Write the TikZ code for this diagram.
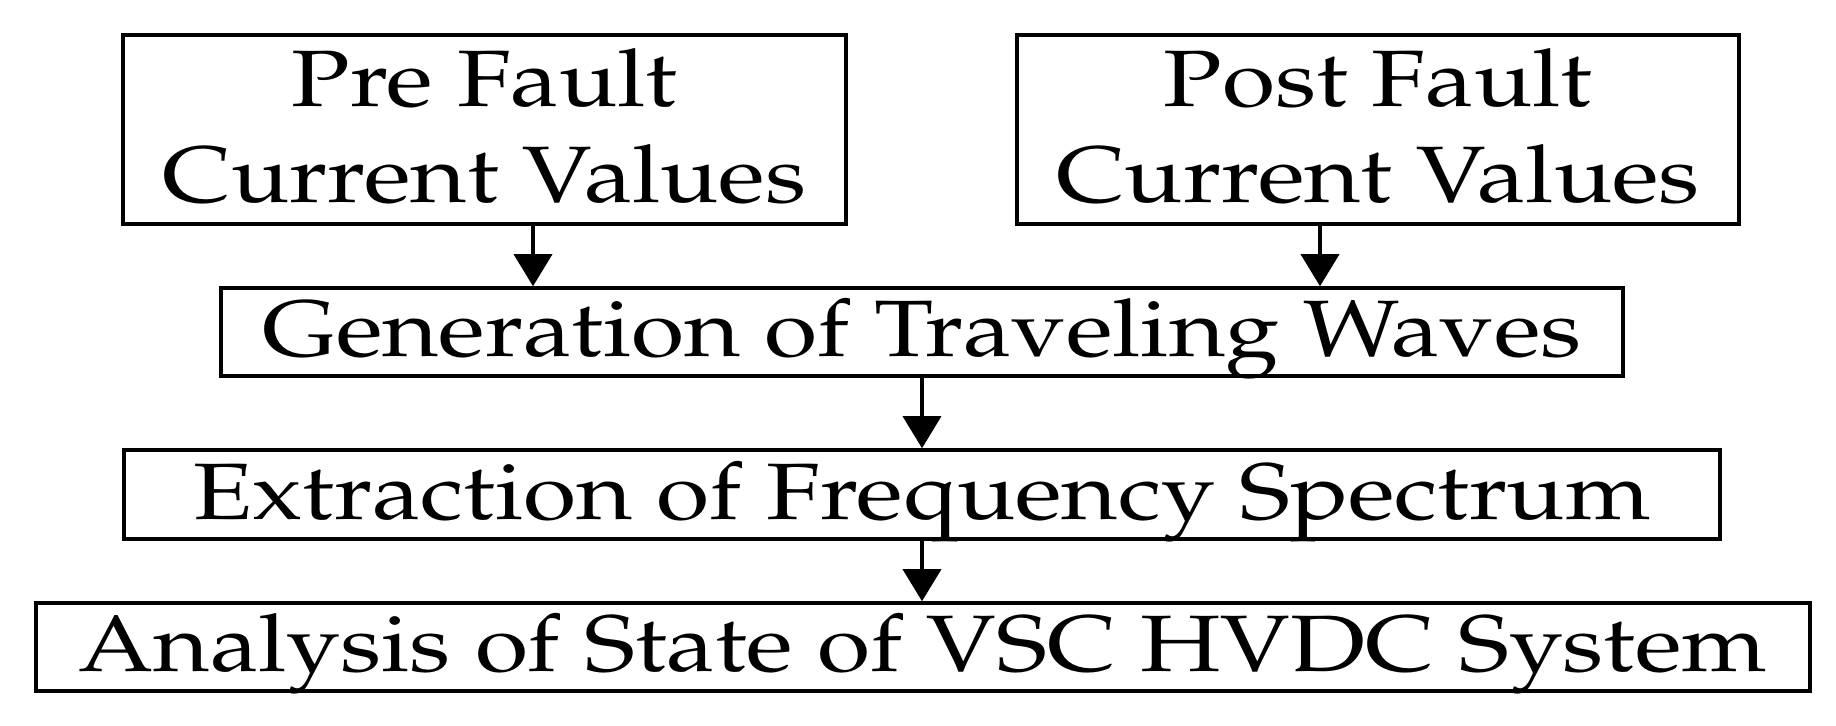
\documentclass[tikz,border=0pt]{standalone}
\usepackage[T1]{fontenc}
\renewcommand{\rmdefault}{ppl}
\usepackage{graphicx}
\usetikzlibrary{arrows.meta}
\newcommand{\sx}[1]{\scalebox{1.21}[1]{#1}}
\newcommand{\twol}[2]{\raisebox{11.25pt}[0pt][0pt]{\sx{\begin{tabular}[t]{@{}c@{}}#1\\#2\end{tabular}}}}
\newcommand{\onel}[1]{\raisebox{-12.35pt}[0pt][0pt]{\sx{#1}}}
\begin{document}
\begin{tikzpicture}[x=0.5pt,y=-0.5pt,
  box/.style={draw, line width=1.75pt, inner sep=0pt, font=\fontsize{40}{48}\selectfont, align=center},
  arr/.style={line width=1.75pt, -{Triangle[length=16pt,width=19pt]}}]
\useasboundingbox (0,0) rectangle (1836,726);
\node[box, minimum width=723*0.5pt, minimum height=189*0.5pt] (b1) at (484.5,129.5) {\twol{Pre Fault}{Current Values}};
\node[box, minimum width=722*0.5pt, minimum height=189*0.5pt] (b2) at (1378,129.5) {\twol{Post Fault}{Current Values}};
\node[box, minimum width=1402*0.5pt, minimum height=88*0.5pt] (b3) at (922,332) {\onel{Generation of Traveling Waves}};
\node[box, minimum width=1596*0.5pt, minimum height=89*0.5pt] (b4) at (922,494.5) {\onel{Extraction of Frequency Spectrum}};
\node[box, minimum width=1774*0.5pt, minimum height=88*0.5pt] (b5) at (923,647) {\onel{Analysis of State of VSC HVDC System}};
\coordinate (c1) at (533,0);
\coordinate (c2) at (1320,0);
\coordinate (c3) at (922,0);
\draw[arr] (b1.south -| c1) -- (b3.north -| c1);
\draw[arr] (b2.south -| c2) -- (b3.north -| c2);
\draw[arr] (b3.south -| c3) -- (b4.north -| c3);
\draw[arr] (b4.south -| c3) -- (b5.north -| c3);
\end{tikzpicture}
\end{document}
